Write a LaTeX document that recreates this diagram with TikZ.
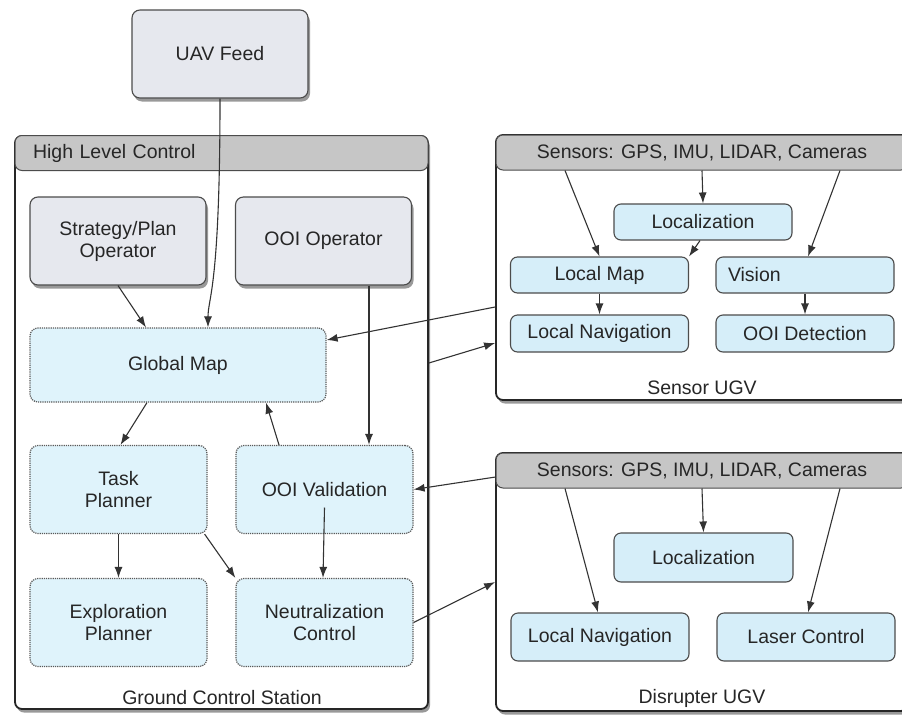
\documentclass[tikz,border=0pt]{standalone}
\usepackage{fontspec}
\setmainfont{Liberation Sans}
\usepackage{xcolor}
\usetikzlibrary{arrows.meta,shadows}
\definecolor{boxgray}{HTML}{E6E8EE}
\definecolor{headgray}{HTML}{C6C6C6}
\definecolor{lblue}{HTML}{D6EEF9}
\definecolor{dblue}{HTML}{DFF3FB}
\definecolor{textcol}{HTML}{262626}
\definecolor{linecol}{HTML}{333333}

\begin{document}
\begin{tikzpicture}[x=1pt,y=-1pt,
    font=\fontsize{19.5}{22}\selectfont, text=textcol,
    shad/.style={drop shadow={shadow xshift=2pt,shadow yshift=-3.5pt,opacity=.4,fill=black}},
    frame/.style={draw=black!85, line width=1.8pt, fill=white, rounded corners=7pt, shad},
    head/.style={draw=black!70, line width=1pt, fill=headgray, rounded corners=7pt, minimum height=35pt},
    opbox/.style={draw=black!70, line width=1.1pt, fill=boxgray, rounded corners=8pt, shad,
        minimum width=176pt, minimum height=88pt, align=center},
    plbox/.style={draw=black!65, line width=1.2pt, densely dotted, fill=dblue, rounded corners=8pt,
        minimum width=177pt, minimum height=88pt, align=center},
    ugvbox/.style={draw=black!70, line width=1.1pt, fill=lblue, rounded corners=7pt,
        minimum width=178pt, minimum height=36pt},
    conn/.style={draw=linecol, line width=1.1pt, -{Latex[length=11pt,width=8pt]}}]

    \clip (0,0) rectangle (902,715);

    \node [opbox] (uav) at (220,54) {UAV Feed};

    \node [frame, minimum width=413pt, minimum height=573pt] (hlc) at (221.5,422.5) {};
    \node [head, minimum width=413pt, text width=377pt, inner xsep=18pt, align=left] (hlchead) at (221.5,153) {High Level Control};
    \node (gcs) at (222,698) {Ground Control Station};

    \node [opbox] (strat) at (118,241) {Strategy/Plan\\Operator};
    \node [opbox] (ooiop) at (323.5,241) {OOI Operator};
    \node [plbox, minimum width=296pt, minimum height=74pt] (gmap) at (178,365) {Global Map};
    \node [plbox] (task) at (118.5,489.5) {Task\\Planner};
    \node [plbox] (ooival) at (324.5,489.5) {OOI Validation};
    \node [plbox] (explor) at (118.5,622.5) {Exploration\\Planner};
    \node [plbox] (neutral) at (324.5,622.5) {Neutralization\\Control};
    \coordinate (valout) at ([yshift=-18pt]ooival.center);

    \node [frame, minimum width=412pt, minimum height=265pt] (sugv) at (702,267.5) {};
    \node [head, minimum width=412pt] (shead) at (702,152.5) {Sensors: GPS, IMU, LIDAR, Cameras};
    \node (slabel) at (702,388) {Sensor UGV};
    \node [ugvbox] (sloc) at (703,222) {Localization};
    \node [ugvbox] (lmap) at (599.5,275) {Local Map};
    \node [ugvbox, text width=154pt, inner xsep=12pt, align=left] (vision) at (805,275) {Vision};
    \node [ugvbox, minimum height=37pt] (snav) at (599.5,333.5) {Local Navigation};
    \node [ugvbox, minimum height=37pt] (ooidet) at (805,333.5) {OOI Detection};

    \node [frame, minimum width=412pt, minimum height=258pt] (dugv) at (702,582) {};
    \node [head, minimum width=412pt] (dhead) at (702,470.5) {Sensors: GPS, IMU, LIDAR, Cameras};
    \node (dlabel) at (702,698) {Disrupter UGV};
    \node [ugvbox, minimum width=179pt, minimum height=49pt] (dloc) at (703.5,557.5) {Localization};
    \node [ugvbox, minimum height=48pt] (dnav) at (600,637) {Local Navigation};
    \node [ugvbox, minimum height=48pt] (laser) at (806,637) {Laser Control};

    \draw [conn] (uav.south) .. controls ([yshift=-190pt]uav.south) and ([xshift=30pt,yshift=30pt]gmap.north) .. ([xshift=30pt]gmap.north);
    \draw [conn] (strat.south) -- ([xshift=-32pt]gmap.north);
    \draw [conn] ([xshift=45.5pt]ooiop.south) -- ([xshift=44.5pt]ooival.north);
    \draw [conn] ([xshift=-31pt]gmap.south) -- ([xshift=2pt]task.north);
    \draw [conn] ([xshift=-45.5pt]ooival.north) -- ([xshift=88pt]gmap.south);
    \draw [conn] (task.south) -- (explor.north);
    \draw [conn] ([xshift=-3pt]task.south east) -- (neutral.north west);
    \draw [conn] (valout) -- ([xshift=-1.5pt]neutral.north);

    \draw [conn] ([yshift=-39.5pt]sugv.west) -- ([yshift=25pt]gmap.east);
    \draw [conn] ([yshift=59.5pt]hlc.east) -- ([yshift=-75.5pt]sugv.west);
    \draw [conn] ([yshift=-6.5pt]dhead.west) -- (ooival.east);
    \draw [conn] (neutral.east) -- (dugv.west);

    \draw [conn] ([xshift=-137pt]shead.south) -- (lmap.north);
    \draw [conn] (shead.south) -- (sloc.north);
    \draw [conn] ([xshift=-3pt]sloc.south) -- (lmap.north east);
    \draw [conn] ([xshift=138pt]shead.south) -- ([xshift=3pt]vision.north);
    \draw [conn] (lmap.south) -- (snav.north);
    \draw [conn] (vision.south) -- (ooidet.north);

    \draw [conn] ([xshift=-137pt]dhead.south) -- ([xshift=-2pt]dnav.north);
    \draw [conn] (dhead.south) -- (dloc.north);
    \draw [conn] ([xshift=138pt]dhead.south) -- ([xshift=2pt]laser.north);
\end{tikzpicture}
\end{document}
